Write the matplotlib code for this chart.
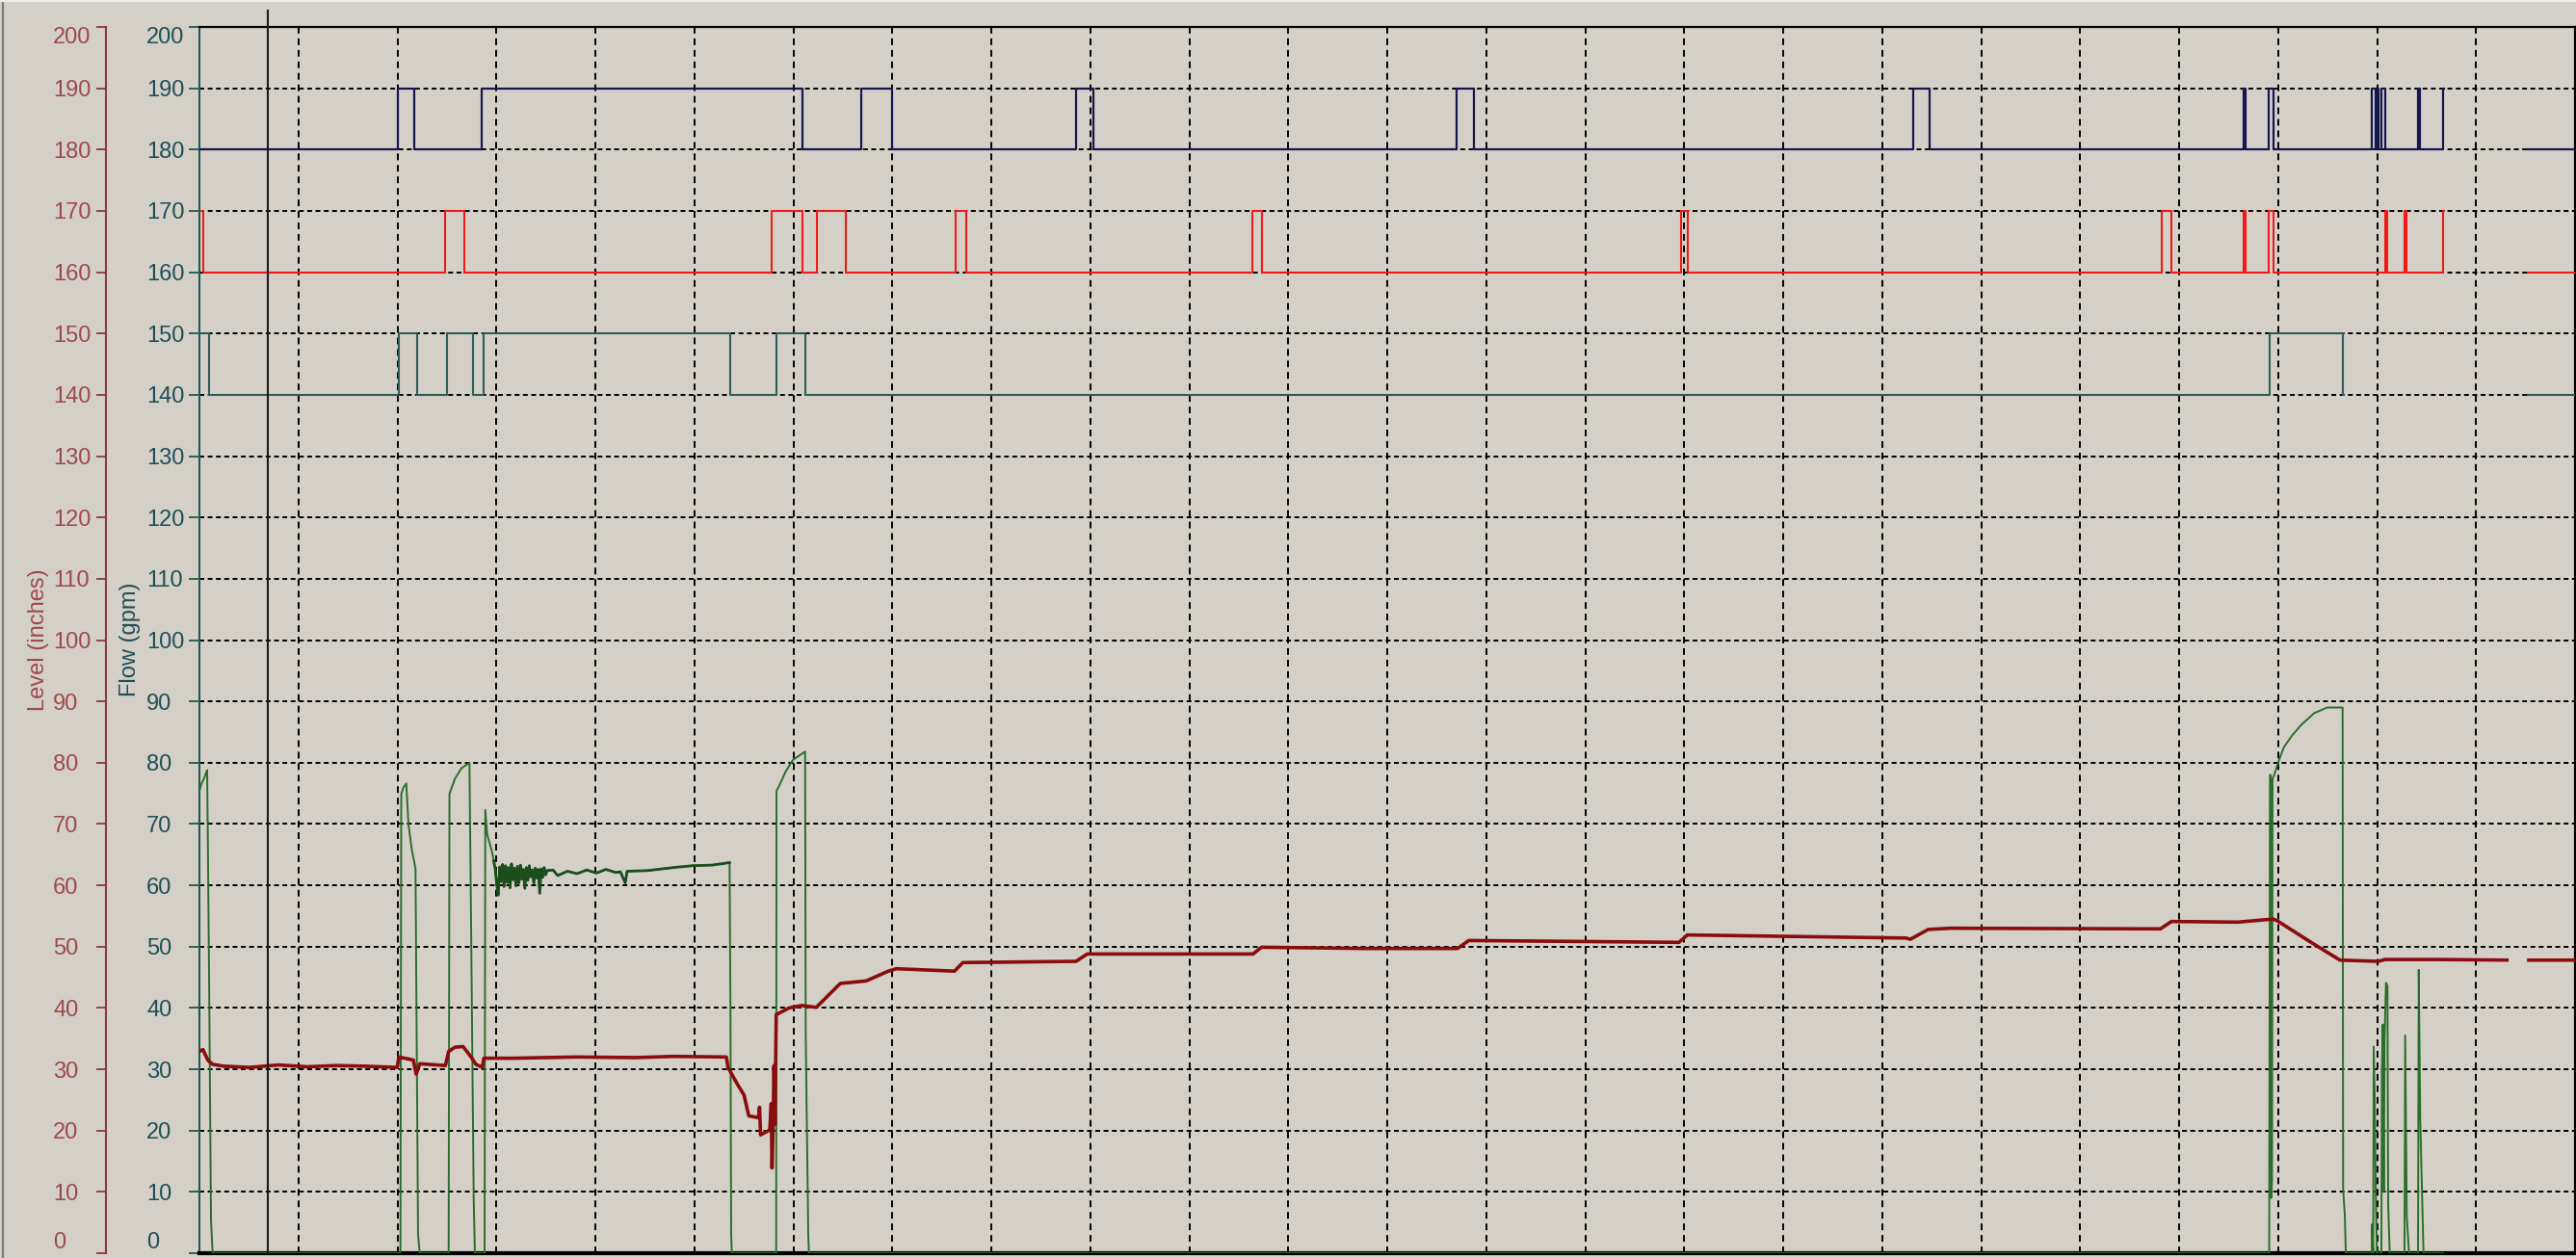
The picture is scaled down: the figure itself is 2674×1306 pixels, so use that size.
import numpy as np
import matplotlib
matplotlib.use("Agg")
import matplotlib.pyplot as plt
from matplotlib.lines import Line2D

plt.rcParams['font.family'] = ['Liberation Sans', 'DejaVu Sans']
plt.rcParams['lines.scale_dashes'] = False

nan = np.nan

# ---------------- data (time in hours, values in chart units) ----------------
y_ticks = list(range(0, 201, 10))
x_grid = list(range(1, 24))
cursor_time = 0.69

# digital signal 1 (navy): 180 = off, 190 = on
blue_t = [0, 2.005, 2.170, 2.852, 6.092, 6.686, 6.998, 8.856, 9.032, 12.701, 12.876,
          17.314, 17.479, 20.652, 20.672, 20.905, 20.954, 21.946, 21.985, 22.005, 22.015,
          22.044, 22.083, 22.414, 22.433, 22.667, 22.677, 23.523, 24.0]
blue_v = [180, 190, 180, 190, 180, 190, 180, 190, 180, 190, 180,
          190, 180, 190, 180, 190, 180, 190, 180, 190, 180,
          190, 180, 190, 180, 190, nan, 180, 180]

# digital signal 2 (red): 160 = off, 170 = on
red_t = [0, 0.040, 2.482, 2.676, 5.781, 6.092, 6.238, 6.530, 7.640, 7.747, 10.637, 10.735,
         14.968, 15.036, 19.825, 19.922, 20.652, 20.672, 20.905, 20.954, 22.083, 22.102,
         22.277, 22.297, 22.667, 22.677, 23.523, 24.0]
red_v = [170, 160, 170, 160, 170, 160, 170, 160, 170, 160, 170, 160,
         170, 160, 170, 160, 170, 160, 170, 160, 170, 160,
         170, 160, 170, nan, 160, 160]

# digital signal 3 (slate): 140 = off, 150 = on
teal_t = [0, 0.097, 2.015, 2.199, 2.501, 2.764, 2.871, 5.363, 5.830, 6.122,
          20.915, 21.655, 21.665, 23.523, 24.0]
teal_v = [150, 140, 150, 140, 150, 140, 150, 140, 150, 140,
          150, 140, nan, 140, 140]

# Flow (gpm)
flow_t = [0.000, 0.019, 0.049, 0.078, 0.085, 0.100, 0.117, 0.133,
          2.031, 2.039, 2.063, 2.090, 2.112, 2.144, 2.183, 2.193, 2.209, 2.226,
          2.518, 2.526, 2.582, 2.647, 2.728, 2.745, 2.771, 2.783,
          2.881, 2.888, 2.907, 2.956, 2.973,
          2.988, 3.003, 3.018, 3.033, 3.048, 3.063, 3.078, 3.093, 3.108, 3.123,
          3.138, 3.153, 3.168, 3.183, 3.198, 3.213, 3.228, 3.243, 3.258, 3.273,
          3.288, 3.303, 3.318, 3.333, 3.348, 3.363, 3.378, 3.393, 3.408, 3.423,
          3.438, 3.453, 3.468, 3.483, 3.498, 3.513,
          3.572, 3.620, 3.718, 3.815, 3.912, 4.010, 4.107,
          4.204, 4.253, 4.302, 4.321, 4.526, 4.788, 4.983, 5.178, 5.356,
          5.365, 5.372, 5.379,
          5.827, 5.830, 5.859, 5.924, 5.998, 6.119, 6.125, 6.151, 6.158,
          20.910, 20.918, 20.925, 20.931, 20.939, 20.944, 20.961, 21.009, 21.058,
          21.139, 21.236, 21.366, 21.496, 21.652, 21.657, 21.674, 21.684,
          21.946, 21.949, 21.961, 21.966, 21.976, 21.988, 21.998,
          22.044, 22.049, 22.058, 22.068, 22.076, 22.090, 22.105, 22.112, 22.128,
          22.277, 22.284, 22.300, 22.323,
          22.414, 22.421, 22.436, 22.453, 22.469, 22.667, 22.677]
flow_v = [75.4, 76.5, 77.5, 78.8, 67.8, 40.6, 5.4, 0,
          0, 74.9, 76.0, 76.6, 70.0, 66.0, 62.7, 40.6, 3.0, 0,
          0, 74.9, 77.4, 79.1, 80.0, 53.0, 8.8, 0,
          0, 72.3, 68.3, 65.5, 64.0,
          62.7, 60.2, 58.4, 63.0, 60.6, 63.4, 59.8, 63.2, 60.5, 62.9,
          59.6, 63.5, 60.9, 62.8, 59.9, 63.1, 60.4, 63.3, 61.0, 62.6,
          59.5, 62.9, 60.8, 63.2, 61.4, 62.5, 60.3, 62.8, 61.2, 62.6,
          58.7, 62.7, 61.3, 62.9, 61.7, 62.4,
          62.5, 61.6, 62.3, 61.9, 62.5, 62.0, 62.6,
          62.1, 62.2, 60.4, 62.3, 62.4, 62.9, 63.2, 63.3, 63.7,
          40.0, 3.0, 0,
          0, 75.4, 76.3, 78.6, 80.5, 81.8, 36.0, 3.0, 0,
          0, 78.0, 78.0, 9.0, 12.0, 77.4, 78.0, 80.4, 82.5,
          84.4, 86.2, 88.1, 89.0, 89.0, 10.5, 6.3, 0,
          0, 4.7, 0, 33.7, 25.6, 8.6, 0,
          0, 30.0, 37.3, 10.0, 35.0, 44.1, 43.6, 8.0, 0,
          0, 35.5, 6.0, 0,
          0, 46.2, 22.0, 10.5, 0, 0, nan]

# Level (inches)
level_t = [0.000, 0.036, 0.085, 0.133, 0.246, 0.506, 0.798, 1.090, 1.382, 1.674, 1.998,
           2.015, 2.161, 2.190, 2.226, 2.485, 2.518, 2.582, 2.664, 2.745, 2.793, 2.858,
           2.874, 3.166, 3.815, 4.399, 4.788, 5.324, 5.340, 5.437, 5.502, 5.550, 5.648,
           5.659, 5.669, 5.762, 5.777, 5.785, 5.796, 5.805, 5.815, 5.827, 5.957, 6.086,
           6.232, 6.475, 6.735, 6.959, 7.042, 7.628, 7.713, 8.856, 8.969, 10.645, 10.729,
           11.763, 12.710, 12.824, 14.948, 15.032, 15.494, 17.242, 17.285, 17.465, 17.689,
           19.811, 19.922, 20.594, 20.950, 20.993, 21.333, 21.625, 22.014, 22.080, 22.628,
           23.312, 23.400, 23.533, 24.000]
level_v = [32.9, 33.2, 31.5, 30.8, 30.5, 30.3, 30.7, 30.4, 30.6, 30.5, 30.3,
           32.0, 31.5, 29.2, 30.9, 30.6, 32.9, 33.6, 33.7, 32.0, 30.8, 30.3,
           31.8, 31.8, 32.0, 31.9, 32.1, 32.0, 30.3, 27.5, 25.8, 22.4, 22.1,
           23.8, 19.3, 20.1, 24.4, 13.9, 21.0, 30.6, 21.0, 38.9, 40.0, 40.4,
           40.1, 44.0, 44.4, 46.0, 46.4, 46.0, 47.4, 47.6, 48.8, 48.8, 49.9,
           49.7, 49.7, 51.0, 50.7, 51.9, 51.8, 51.4, 51.2, 52.8, 53.0,
           52.9, 54.1, 54.0, 54.5, 54.2, 50.7, 47.8, 47.6, 47.9, 47.9,
           47.8, nan, 47.8, 47.8]

# ---------------- styling ----------------
BG = '#d4d0c8'
FLOW_AX = '#1f5a50'
FLOW_LAB = '#1e4f57'
LEVEL_AX = '#8b3a3a'
LEVEL_LAB = '#9e4a4a'
PX = 0.72  # points per pixel at dpi 100

W, H = 2674, 1306
fig = plt.figure(figsize=(W / 100, H / 100), dpi=100, facecolor=BG)
left, right, top, bottom = 207, 2673, 28, 1301
ax = fig.add_axes([left / W, (H - bottom) / H, (right - left) / W, (bottom - top) / H])
ax.set_facecolor(BG)
ax.set_xlim(0, 24)
ax.set_ylim(0, 200)

# grid
ax.set_xticks(x_grid)
ax.set_xticklabels([])
ax.tick_params(axis='x', length=0)
ax.set_yticks(y_ticks)
ax.grid(axis='y', color='black', lw=1.4, ls=(0, (3.6, 2.6)))
ax.grid(axis='x', color='black', lw=1.4, ls=(0, (5.0, 3.6)))
ax.set_axisbelow(True)

# spines
for s in ('top', 'right'):
    ax.spines[s].set_color('black')
    ax.spines[s].set_linewidth(1.6)
ax.spines['bottom'].set_color('black')
ax.spines['bottom'].set_linewidth(3.0)
ax.spines['left'].set_color(FLOW_AX)
ax.spines['left'].set_linewidth(1.5)

ax.tick_params(axis='y', length=11 * PX, width=1.3, color=FLOW_AX, labelcolor=FLOW_LAB,
               labelsize=17, pad=44 * PX)
labs = ax.get_yticklabels()
for lab in labs:
    lab.set_ha('left')
labs[0].set_va('bottom')
labs[-1].set_va('top')

# level axis (second scale on the left)
ax2 = ax.twinx()
ax2.set_ylim(0, 200)
ax2.set_yticks(y_ticks)
ax2.yaxis.set_ticks_position('left')
for s in ('top', 'right', 'bottom'):
    ax2.spines[s].set_visible(False)
ax2.spines['left'].set_visible(True)
ax2.spines['left'].set_position(('axes', (110 - left) / (right - left)))
ax2.spines['left'].set_color(LEVEL_AX)
ax2.spines['left'].set_linewidth(1.5)
ax2.tick_params(axis='y', length=10 * PX, width=1.3, color=LEVEL_AX, labelcolor=LEVEL_LAB,
                labelsize=17, pad=45 * PX, right=False, labelright=False)
labs2 = ax2.get_yticklabels()
for lab in labs2:
    lab.set_ha('left')
labs2[0].set_va('bottom')
labs2[-1].set_va('top')

# series
ax.plot(teal_t, teal_v, drawstyle='steps-post', color='#2e5d58', lw=1.5, zorder=3)
ax.plot(red_t, red_v, drawstyle='steps-post', color='#f01a1a', lw=1.5, zorder=3)
ax.plot(blue_t, blue_v, drawstyle='steps-post', color='#16164e', lw=1.6, zorder=3)
ax.plot(flow_t, flow_v, color='#2a6e2a', lw=1.4, zorder=4)
# steady-running part of the flow trace is drawn darker (dense noisy band)
ft = np.array(flow_t)
fv = np.array(flow_v)
m = (ft >= 2.97) & (ft <= 5.36)
ax.plot(ft[m], fv[m], color='#1c4d1c', lw=2.0, zorder=4)
ax.plot(level_t, level_v, color='#8a0c0c', lw=2.6, zorder=5)

# cursor line
ax.plot([cursor_time, cursor_time], [0, 202.6], color='#1a1a1a', lw=1.5, zorder=6,
        clip_on=False)

# axis titles
fig.text(40 / W, 1 - 664 / H, 'Level (inches)', rotation=90, ha='center', va='center',
         color=LEVEL_LAB, fontsize=17)
fig.text(135 / W, 1 - 664 / H, 'Flow (gpm)', rotation=90, ha='center', va='center',
         color=FLOW_LAB, fontsize=17)

# window border
fig.add_artist(Line2D([3 / W, 3 / W], [0, 1], color='#7a7a7a', lw=1.6))
fig.add_artist(Line2D([0, 1], [1 - 1 / H, 1 - 1 / H], color='#ececec', lw=1.5))

fig.savefig('out.png', dpi=100, facecolor=BG)
